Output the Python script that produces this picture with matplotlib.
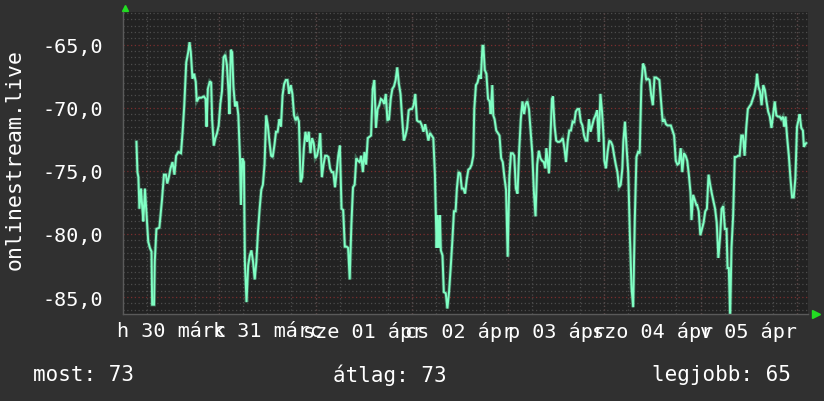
import numpy as np
import matplotlib
matplotlib.use("Agg")
import matplotlib.pyplot as plt

# hours since 30 March 00:00, and the measured value at that time
hours = [
    3.35, 3.6, 3.84, 4.09, 4.49, 4.82, 5.07, 5.47, 5.88, 6.29, 6.70, 7.11, 7.27, 7.76, 7.92, 8.33,
    9.07, 9.72, 10.21, 10.70, 11.03, 11.36, 11.85, 12.34, 12.83, 13.24, 13.81, 14.46, 14.87, 15.28,
    15.77, 16.26, 16.59, 16.91, 17.32, 17.73, 18.14, 18.38, 18.95, 19.53, 20.18, 20.59, 20.83, 21.16,
    21.65, 21.98, 22.22, 22.63, 23.04, 23.45, 23.86, 24.27, 24.67, 25.08, 25.49, 25.90, 26.31, 26.55,
    26.88, 27.21, 27.53, 27.94, 28.35, 28.76, 29.17, 29.41, 29.74, 30.15,
    30.39, 30.80, 31.21, 31.62, 32.02, 32.43, 32.84, 33.25, 33.66, 34.07, 34.48, 34.88, 35.29, 35.70,
    36.11, 36.52, 36.93, 37.33, 37.74, 38.15, 38.56, 38.97, 39.38, 39.79, 40.19, 40.60, 41.01, 41.42,
    41.83, 42.24, 42.65, 43.05, 43.46, 43.87, 44.28, 44.69, 45.10, 45.50, 45.91, 46.32, 46.73, 47.14,
    47.55, 47.96, 48.36, 48.77, 49.18, 49.59, 50.00, 50.41, 50.82, 51.22, 51.63, 52.04, 52.45, 52.86,
    53.27, 53.67, 54.08, 54.49, 54.90, 55.31, 55.72, 56.13, 56.53, 56.94, 57.35, 57.76, 58.17, 58.58,
    58.99, 59.40, 59.81, 60.21, 60.62, 61.03, 61.44, 61.85, 62.26, 62.67, 63.07, 63.48, 63.89, 64.30,
    64.71, 65.12, 65.52, 65.93, 66.34, 66.75, 67.16, 67.57, 67.98, 68.38, 68.79, 69.20, 69.61, 70.02,
    70.43, 70.84, 71.24, 71.65, 72.06, 72.47, 72.88, 73.29, 73.69, 74.10, 74.51, 74.92, 75.33, 75.74,
    76.15, 76.55, 76.96, 77.37, 77.78, 78.19, 78.43, 78.76, 79.01, 79.25, 79.66, 79.99, 80.48, 80.88,
    81.29, 81.70, 82.11, 82.52, 82.93, 83.25, 83.66, 84.07, 84.48, 84.89, 85.30, 85.70, 86.11, 86.52,
    86.93, 87.34, 87.59, 88.00, 88.40, 88.81, 89.22, 89.63, 89.87, 90.20, 90.61, 91.02, 91.43, 91.67,
    92.08, 92.33, 92.65, 93.06, 93.47, 93.88, 94.29, 94.69, 95.10, 95.51, 95.92, 96.33, 96.74, 97.15,
    97.55, 97.96, 98.37, 98.78, 99.19, 99.60, 100.01, 100.41, 100.82, 101.23, 101.64, 102.05, 102.46,
    102.86, 103.27, 103.68, 104.09, 104.50, 104.91, 105.32, 105.56, 105.97, 106.21, 106.54, 106.95,
    107.20, 107.60, 108.01, 108.42, 108.83, 109.24, 109.65, 110.06, 110.46, 110.87, 111.28, 111.69,
    112.10, 112.51, 112.91, 113.32, 113.73, 114.14, 114.55, 114.96, 115.37, 115.77,
    116.18, 116.58, 116.99, 117.40, 117.81, 118.22, 118.63, 119.04, 119.44, 119.85, 120.02, 120.42,
    120.83, 121.24, 121.65, 122.06, 122.47, 122.87, 123.28, 123.69, 124.10, 124.51, 124.75, 125.16,
    125.57, 125.98, 126.39, 126.80, 127.21, 127.61, 128.02, 128.43, 128.84, 129.25, 129.66, 130.06,
    130.47, 130.88, 131.29, 131.70, 132.11, 132.52, 132.92, 133.33, 133.74, 134.15, 134.56, 134.97,
    135.38, 135.78, 136.19, 136.60, 137.01, 137.42, 137.83, 138.23, 138.64, 139.05, 139.46, 139.87,
    140.28, 140.69, 141.09, 141.50, 141.75, 142.16, 142.57, 142.97,
    143.14, 143.55, 143.96, 144.37, 144.77, 145.18, 145.59, 146.00, 146.41, 146.82, 147.23, 147.63,
    148.04, 148.45, 148.86, 149.27, 149.68, 150.08, 150.49, 150.74, 151.06, 151.39, 151.72, 152.13,
    152.54, 152.94, 153.35, 153.76, 154.17, 154.58, 154.99, 155.40, 155.80, 156.21, 156.62, 157.03,
    157.44, 157.85, 158.09, 158.42, 158.83, 159.23, 159.64, 160.05, 160.46, 160.87, 161.28, 161.69,
    162.09, 162.50, 162.91, 163.32, 163.73, 164.14, 164.55, 164.87, 165.20, 165.61, 166.02, 166.43,
    166.83, 167.24, 167.65, 168.06, 168.47, 168.71, 169.12, 169.53, 169.78, 170.10, 170.35,
]
values = [
    -72.7, -75.1, -75.5, -78.0, -76.4, -78.0, -79.0, -76.4, -78.5, -80.6, -81.1, -81.4, -85.6, -85.6, -82.2, -79.6,
    -79.5, -77.3, -75.3, -75.3, -76.0, -75.6, -74.8, -74.3, -75.3, -73.8, -73.5, -73.6, -71.9, -69.8,
    -66.4, -65.6, -64.8, -65.6, -67.7, -67.3, -67.95, -69.5, -69.2, -69.2, -69.1, -69.3, -71.5, -68.5,
    -67.9, -68.0, -70.9, -73.0, -72.4, -72.0, -71.4, -69.7, -68.7, -66.0, -65.8, -66.6, -68.7, -70.5,
    -65.4, -65.6, -68.3, -69.9, -69.5, -70.6, -74.0, -77.7, -74.0, -74.3,
    -82.2, -85.4, -82.5, -81.7, -81.3, -82.2, -83.6, -82.2, -79.8, -78.0, -76.5, -76.1, -74.5, -70.6,
    -71.4, -72.7, -73.8, -73.9, -73.0, -71.9, -71.9, -70.9, -71.5, -69.0, -68.1, -67.8, -67.8, -68.9,
    -68.2, -68.9, -70.6, -71.0, -70.7, -71.1, -75.9, -75.5, -73.2, -71.9, -72.7, -71.9, -73.6, -72.4,
    -72.8, -74.0, -73.8, -73.2, -72.0, -75.5, -74.5, -73.8, -73.8, -73.9, -74.8, -75.1, -75.1, -76.3,
    -75.1, -73.8, -73.0, -78.0, -78.1, -81.0, -81.0, -81.1, -83.6, -79.3, -76.3, -76.1, -74.0, -74.2,
    -74.3, -73.8, -75.1, -73.5, -74.5, -72.4, -72.3, -72.2, -68.5, -67.8, -71.6, -70.1, -69.8, -69.3,
    -69.4, -69.7, -68.9, -71.0, -70.9, -69.3, -68.5, -68.3, -67.8, -66.8, -68.1, -68.9, -70.9, -72.6,
    -72.2, -71.6, -70.2, -70.1, -70.1, -69.8, -68.9, -71.0, -71.1, -71.1, -71.4, -71.9, -71.3, -71.9,
    -72.6, -72.0, -72.2, -72.4, -75.3, -81.1, -78.5, -81.1, -78.5, -81.3, -81.7, -84.6, -84.7, -85.9,
    -84.6, -82.7, -80.6, -78.2, -78.2, -76.4, -75.1, -75.2, -76.4, -76.4, -76.8, -75.7, -74.9, -74.8,
    -74.5, -73.8, -70.1, -68.2, -68.0, -67.4, -67.7, -65.1, -65.1, -67.0, -67.3, -69.3, -69.5, -70.5,
    -68.2, -70.6, -70.9, -71.8, -72.0, -72.2, -74.0, -74.3, -75.5, -76.5, -81.8, -75.5, -73.6, -73.6,
    -73.8, -76.4, -76.8, -73.4, -70.9, -69.5, -70.5, -69.7, -69.5, -70.1, -71.9, -73.6, -76.7,
    -78.6, -74.5, -73.4, -74.0, -74.2, -74.3, -74.8, -73.2, -74.5, -75.2, -72.7, -69.3,
    -69.1, -71.4, -72.6, -72.7, -72.7, -72.6, -72.4, -73.2, -74.3, -72.7, -71.8, -71.8,
    -71.1, -71.2, -70.3, -70.1, -70.1, -71.1, -71.4, -72.2, -72.6, -72.6,
    -70.9, -71.9, -71.4, -70.9, -70.6, -70.2, -72.7, -68.9, -70.3, -72.4, -74.2, -74.8,
    -73.5, -72.6, -72.7, -73.0, -73.8, -74.5, -75.1, -76.3, -76.1, -74.8, -72.7, -71.1,
    -73.2, -75.1, -80.1, -84.3, -85.8, -78.9, -73.9, -73.5, -73.6, -68.2, -66.5, -66.8,
    -67.8, -67.7, -67.8, -69.0, -69.8, -67.6, -67.6, -67.7, -67.8, -69.5, -71.1, -70.9,
    -71.3, -71.4, -71.4, -71.4, -71.8, -72.2, -74.2, -74.5, -74.4, -73.2, -75.1, -73.6,
    -73.8, -74.2, -75.3, -76.7, -78.9, -76.9, -77.3, -77.7,
    -77.7, -78.2, -80.1, -79.6, -79.1, -78.2, -78.0, -75.3, -76.1, -76.8, -77.4, -78.0,
    -79.1, -81.9, -80.3, -78.0, -77.8, -79.6, -79.6, -82.7, -82.7, -86.6, -81.1, -78.6,
    -73.9, -73.9, -73.8, -73.8, -72.2, -72.2, -73.8, -71.6, -70.1, -69.9, -69.7, -69.3,
    -68.9, -68.2, -67.3, -68.3, -68.7, -69.8, -68.2, -68.6, -69.5, -70.3, -70.7, -71.6,
    -70.6, -69.5, -70.6, -70.7, -70.7, -70.9, -70.7, -71.5, -70.7, -72.4, -73.8, -75.6,
    -77.1, -77.1, -75.6, -71.5, -70.9, -70.5, -71.6, -71.8, -73.1, -72.9, -72.8,
]

day_labels = ["h 30 márc", "k 31 márc", "sze 01 ápr", "cs 02 ápr", "p 03 ápr", "szo 04 ápr", "v 05 ápr"]
label_hours = [12, 36, 60, 84, 108, 132, 156]
series_name = "onlinestream.live"

mono = "DejaVu Sans Mono"
bg = "#303030"
plot_bg = "#222222"
line_col = "#80ffc4"

fig = plt.figure(figsize=(8.24, 4.02), dpi=100, facecolor=bg)
ax = fig.add_axes([123 / 824, 87 / 402, 685 / 824, 302 / 402])
ax.set_facecolor(plot_bg)

ax.set_xlim(2.94, 170.8)
ax.set_ylim(-86.34, -62.41)

# grid: minor gray, major red
ax.set_yticks(np.arange(-85, -64, 5))
ax.set_yticklabels([f"{v:.1f}".replace(".", ",") for v in np.arange(-85, -64, 5)])
ax.set_yticks(np.arange(-86, -62.4, 0.5), minor=True)
ax.set_xticks(label_hours)
ax.set_xticklabels(day_labels)
ax.set_xticks(np.arange(0, 171, 6), minor=True)

ax.grid(which="minor", color="#4c4c4c", linestyle=(0, (1, 2)), linewidth=0.9)
ax.grid(which="major", axis="y", color="#7a2e2e", linestyle=(0, (1, 2)), linewidth=0.9)
ax.grid(which="major", axis="x", visible=False)
for h in range(24, 169, 24):
    ax.axvline(h, color="#7a2e2e", linestyle=(0, (1, 2)), linewidth=0.9, zorder=0.5)
ax.set_axisbelow(True)

ax.tick_params(which="both", length=0)
ax.tick_params(axis="y", pad=14, labelsize=14.5, labelcolor="white")
ax.tick_params(axis="x", pad=5, labelsize=14.5, labelcolor="white")
for lab in ax.get_xticklabels() + ax.get_yticklabels():
    lab.set_family(mono)

for s in ["top", "right"]:
    ax.spines[s].set_visible(False)
for s in ["bottom", "left"]:
    ax.spines[s].set_color("#5a5a5a")
    ax.spines[s].set_linewidth(1)

# the line with a soft glow
ax.plot(hours, values, color=line_col, linewidth=2.6, alpha=0.3, solid_joinstyle="miter")
ax.plot(hours, values, color=line_col, linewidth=1.4, solid_joinstyle="miter")

# small green arrows at axis ends
ax.plot([0.003], [1.012], marker="^", color="#22dd22", markersize=5, transform=ax.transAxes, clip_on=False)
ax.plot([1.011], [0.0], marker=">", color="#22dd22", markersize=6, transform=ax.transAxes, clip_on=False)

fig.text(15 / 824, 1 - 160 / 402, series_name, rotation=90, color="white", family=mono,
         fontsize=15.5, ha="center", va="center")

last = abs(values[-1])
avg = abs(np.mean(values))
best = abs(max(values))
fig.text(33 / 824, 1 - 375 / 402, f"most: {last:.0f}", color="white", family=mono, fontsize=15, va="center")
fig.text(333 / 824, 1 - 375 / 402, f"átlag: {avg:.0f}", color="white", family=mono, fontsize=15, va="center")
fig.text(791 / 824, 1 - 375 / 402, f"legjobb: {best:.0f}", color="white", family=mono, fontsize=15,
         va="center", ha="right")

fig.savefig("out.png", dpi=100, facecolor=bg)
